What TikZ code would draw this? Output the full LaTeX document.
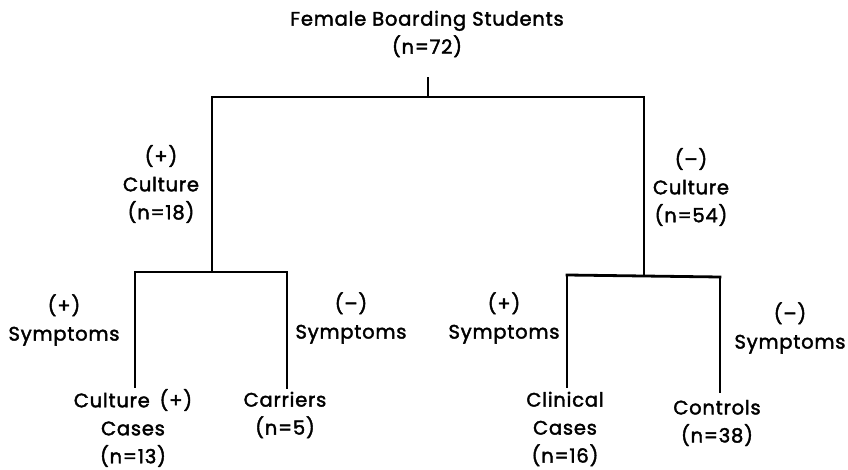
\documentclass[tikz,border=0pt]{standalone}
\usepackage{fontspec}
\setmainfont{Poppins}[LetterSpace=4,FakeBold=2]
\begin{document}
\begin{tikzpicture}[x=1pt,y=-1pt,
  lbl/.style={font=\fontsize{19.5}{28}\selectfont, align=center, inner sep=0pt, anchor=center},
  edge/.style={line width=2.8pt, line cap=rect, line join=miter}]
\useasboundingbox (0,0) rectangle (848,470);
% texts
\node[lbl] (root) at (427,34) {Female Boarding Students\\(n=72)};
\node[lbl] (lc) at (161,184) {(+)\\Culture\\(n=18)};
\node[lbl] (rc) at (691,187) {(--)\\Culture\\(n=54)};
\node[lbl] (lps) at (64,320) {(+)\\Symptoms};
\node[lbl] (lns) at (351,318) {(--)\\Symptoms};
\node[lbl] (rps) at (504,318) {(+)\\Symptoms};
\node[lbl] (rns) at (790,328) {(--)\\Symptoms};
\node[lbl] (cc) at (133,428) {Culture\hspace{0.5em}(+)\\Cases\\(n=13)};
\node[lbl] (car) at (285,415) {Carriers\\(n=5)};
\node[lbl] (clin) at (565,429) {Clinical\\Cases\\(n=16)};
\node[lbl] (con) at (717,423) {Controls\\(n=38)};
% branch points
\coordinate (s0) at (428,78);
\coordinate (b0) at (428,97);
\coordinate (bl) at (212,97);
\coordinate (br) at (644,97);
\coordinate (bld) at (212,272);
\coordinate (brd) at (644,275);
\coordinate (ll) at (135,272);
\coordinate (lr) at (287,272);
\coordinate (rl) at (567,275);
\coordinate (rr) at (720,277);
\coordinate (lle) at (135,387);
\coordinate (lre) at (287,388);
\coordinate (rle) at (567,387);
\coordinate (rre) at (720,392);
% connectors
\draw[edge] (s0) -- (b0);
\draw[edge] (bl) -- (br);
\draw[edge] (bl) -- (bld);
\draw[edge] (br) -- (brd);
\draw[edge] (ll) -- (lr);
\draw[edge] (rl) -- (rr);
\draw[edge] (ll) -- (lle);
\draw[edge] (lr) -- (lre);
\draw[edge] (rl) -- (rle);
\draw[edge] (rr) -- (rre);
\end{tikzpicture}
\end{document}
